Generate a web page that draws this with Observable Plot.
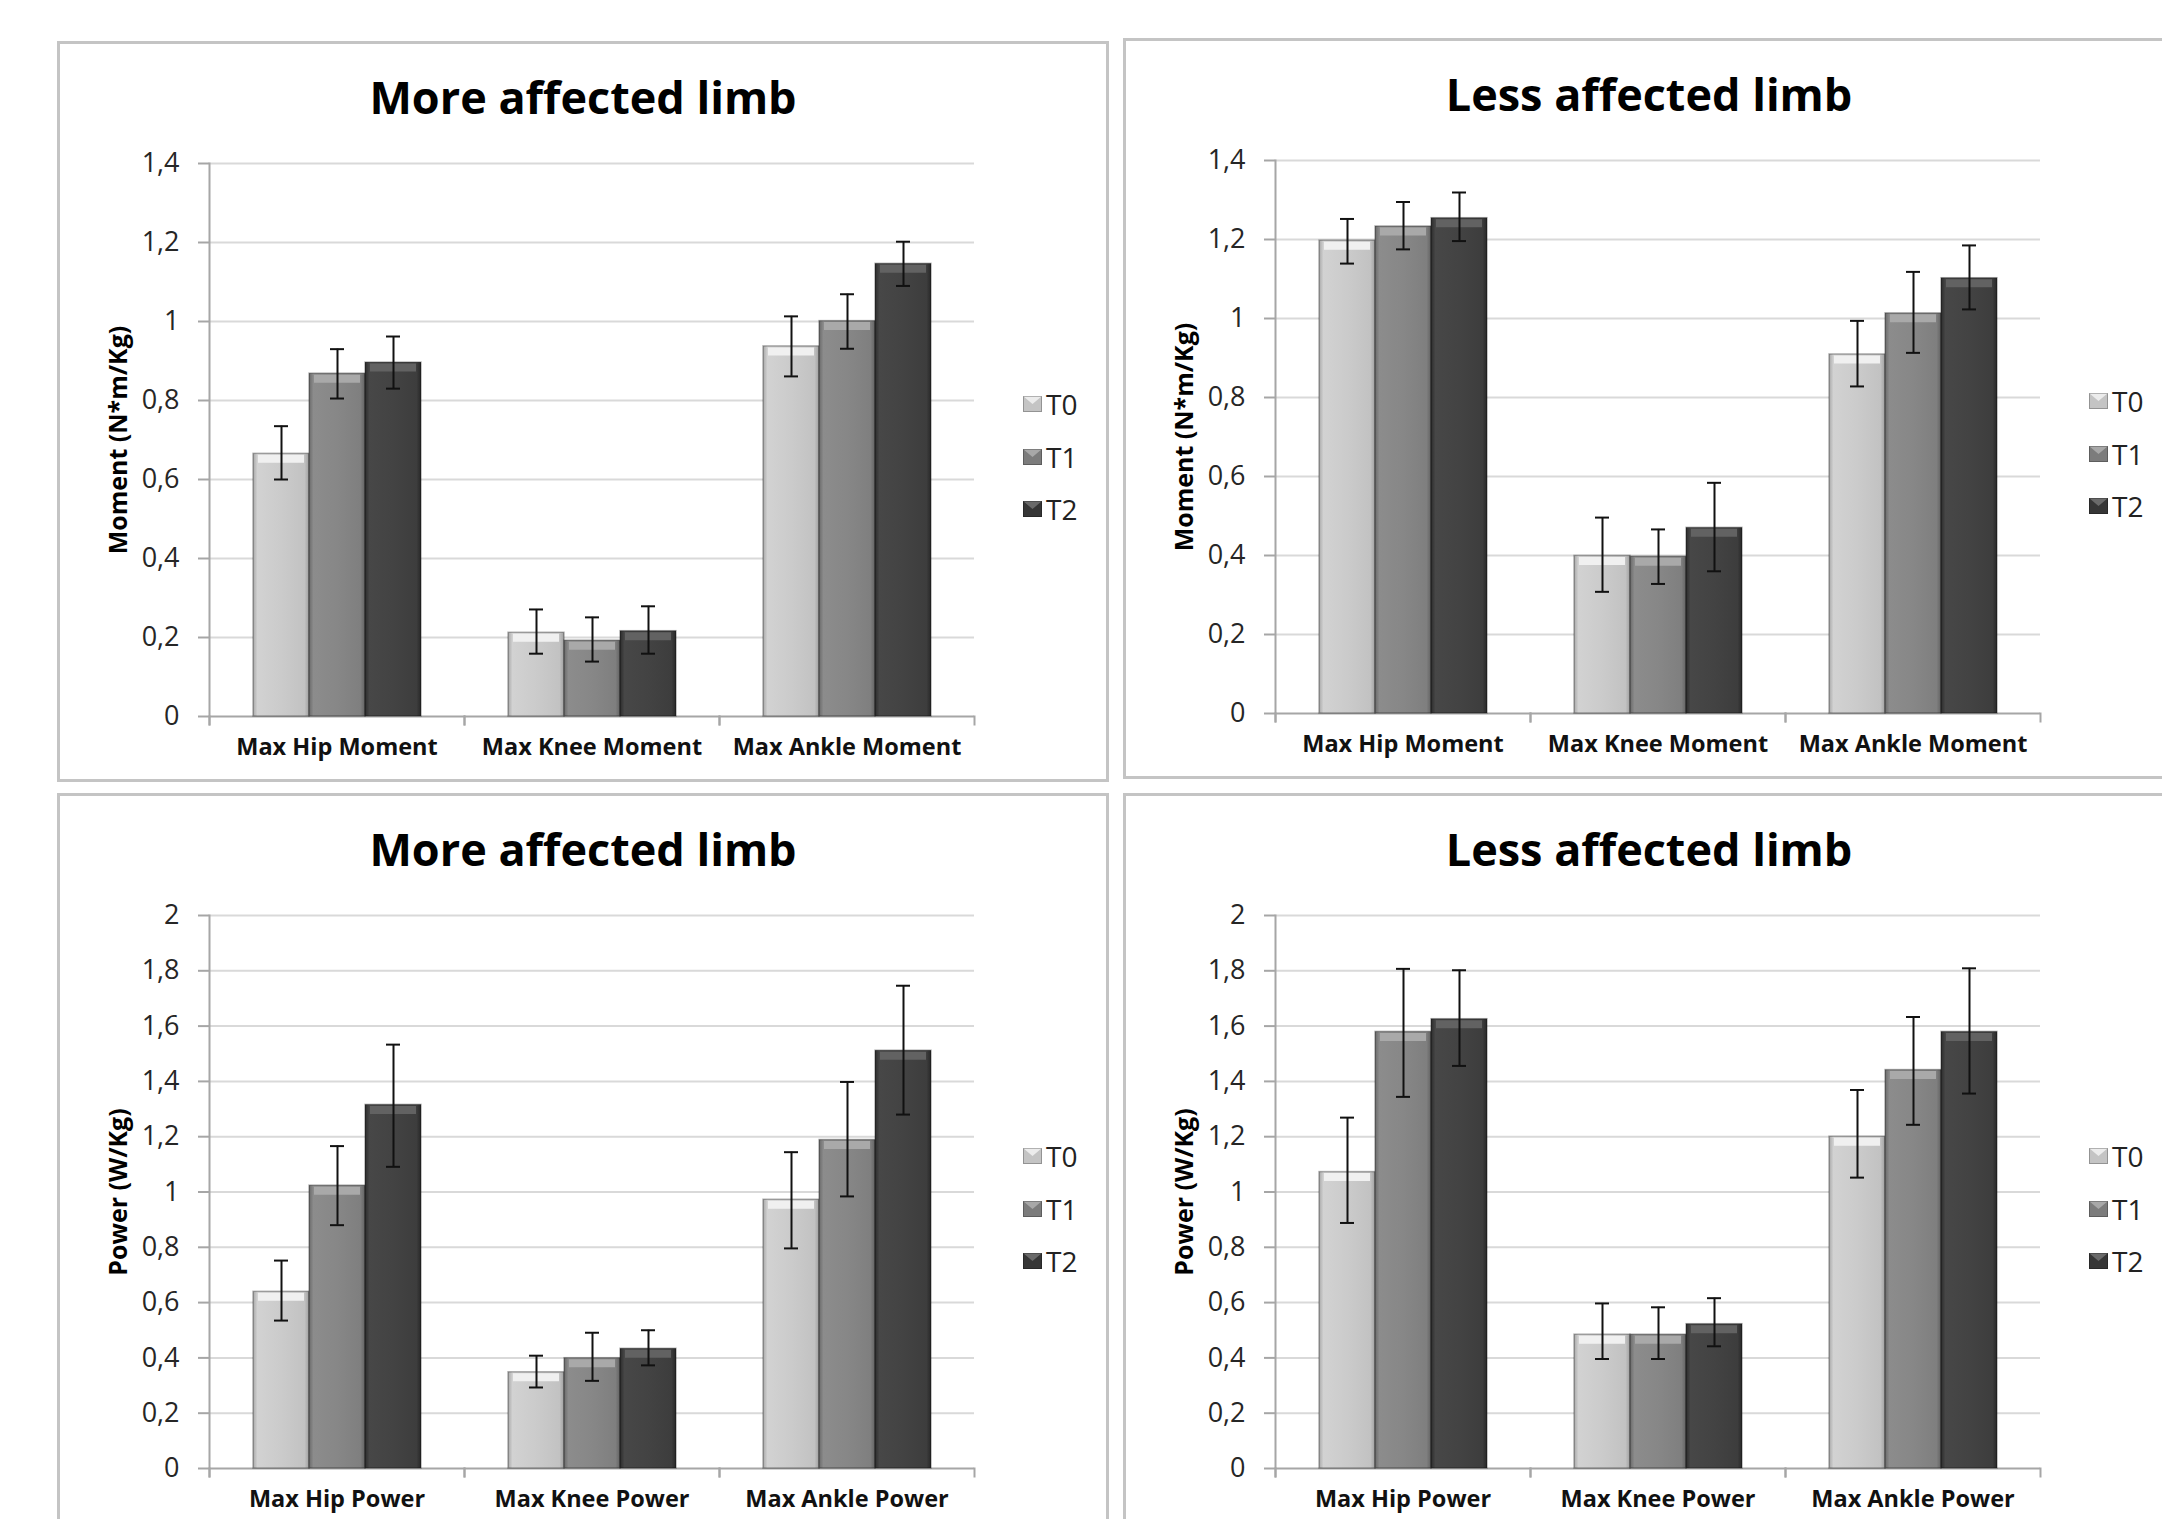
<!DOCTYPE html>
<html><head><meta charset="utf-8">
<script src="https://cdn.jsdelivr.net/npm/d3@7"></script>
<script src="https://cdn.jsdelivr.net/npm/@observablehq/plot@0.6"></script>
<style>
body{margin:0;background:#fff;}
#root{position:relative;width:2162px;height:1519px;overflow:hidden;background:#fff;font-family:"Open Sans",sans-serif;}
.panel{position:absolute;box-sizing:border-box;border:3px solid #c4c4c4;width:1052px;height:741px;}
.chart{position:absolute;}
.title{position:absolute;text-align:center;font-weight:700;font-size:45px;line-height:1;color:#000;white-space:nowrap;}
.ylabel{position:absolute;font-weight:700;font-size:25px;line-height:1;white-space:nowrap;transform:translate(-50%,-50%) rotate(-90deg);color:#000;}
.lrow{position:absolute;display:flex;align-items:center;white-space:nowrap;font-size:28px;line-height:1;color:#222;height:32px;}
.lrow svg{margin-right:4px;}
</style>
</head><body><div id="root">
<svg width="0" height="0" style="position:absolute"><defs>
<linearGradient id="gT0" x1="0" x2="1" y1="0" y2="0"><stop offset="0" stop-color="#a8a8a8"/><stop offset="0.08" stop-color="#d2d2d2"/><stop offset="0.5" stop-color="#cbcbcb"/><stop offset="0.92" stop-color="#c2c2c2"/><stop offset="1" stop-color="#a0a0a0"/></linearGradient>
<linearGradient id="gT1" x1="0" x2="1" y1="0" y2="0"><stop offset="0" stop-color="#6a6a6a"/><stop offset="0.08" stop-color="#8c8c8c"/><stop offset="0.5" stop-color="#878787"/><stop offset="0.92" stop-color="#7f7f7f"/><stop offset="1" stop-color="#636363"/></linearGradient>
<linearGradient id="gT2" x1="0" x2="1" y1="0" y2="0"><stop offset="0" stop-color="#2c2c2c"/><stop offset="0.08" stop-color="#474747"/><stop offset="0.5" stop-color="#434343"/><stop offset="0.92" stop-color="#3d3d3d"/><stop offset="1" stop-color="#282828"/></linearGradient>
</defs></svg>
</div>
<script>
// ---------- data ----------
const series = ["T0", "T1", "T2"];
const momentCategories = ["Max Hip Moment", "Max Knee Moment", "Max Ankle Moment"];
const powerCategories = ["Max Hip Power", "Max Knee Power", "Max Ankle Power"];
const momentTicks = [0, 0.2, 0.4, 0.6, 0.8, 1, 1.2, 1.4];
const powerTicks = [0, 0.2, 0.4, 0.6, 0.8, 1, 1.2, 1.4, 1.6, 1.8, 2];

// rows: hip, knee, ankle; columns: T0, T1, T2
const moreMomentMean = [[0.665, 0.868, 0.896], [0.212, 0.192, 0.216], [0.937, 1.001, 1.146]];
const moreMomentLow  = [[0.600, 0.805, 0.830], [0.159, 0.139, 0.159], [0.861, 0.931, 1.090]];
const moreMomentHigh = [[0.735, 0.930, 0.962], [0.271, 0.251, 0.279], [1.013, 1.069, 1.202]];

const lessMomentMean = [[1.197, 1.233, 1.254], [0.399, 0.397, 0.470], [0.909, 1.013, 1.102]];
const lessMomentLow  = [[1.139, 1.175, 1.196], [0.308, 0.328, 0.360], [0.828, 0.913, 1.023]];
const lessMomentHigh = [[1.252, 1.295, 1.319], [0.496, 0.466, 0.584], [0.994, 1.118, 1.185]];

const morePowerMean = [[0.639, 1.023, 1.315], [0.348, 0.399, 0.433], [0.972, 1.188, 1.511]];
const morePowerLow  = [[0.535, 0.880, 1.091], [0.293, 0.317, 0.373], [0.796, 0.984, 1.280]];
const morePowerHigh = [[0.752, 1.166, 1.533], [0.408, 0.491, 0.500], [1.144, 1.398, 1.746]];

const lessPowerMean = [[1.072, 1.579, 1.625], [0.484, 0.484, 0.522], [1.200, 1.441, 1.579]];
const lessPowerLow  = [[0.888, 1.344, 1.456], [0.396, 0.396, 0.442], [1.052, 1.243, 1.356]];
const lessPowerHigh = [[1.269, 1.807, 1.802], [0.597, 0.583, 0.616], [1.369, 1.633, 1.809]];

// ---------- layout / style ----------
const panels = [
  {left: 57, top: 41, title: "More affected limb", ylabel: "Moment (N*m/Kg)", cats: momentCategories, mean: moreMomentMean, low: moreMomentLow, high: moreMomentHigh, ticks: momentTicks},
  {left: 1123, top: 38, title: "Less affected limb", ylabel: "Moment (N*m/Kg)", cats: momentCategories, mean: lessMomentMean, low: lessMomentLow, high: lessMomentHigh, ticks: momentTicks},
  {left: 57, top: 793, title: "More affected limb", ylabel: "Power (W/Kg)", cats: powerCategories, mean: morePowerMean, low: morePowerLow, high: morePowerHigh, ticks: powerTicks},
  {left: 1123, top: 793, title: "Less affected limb", ylabel: "Power (W/Kg)", cats: powerCategories, mean: lessPowerMean, low: lessPowerLow, high: lessPowerHigh, ticks: powerTicks}
];
const W = 1052, H = 741, ML = 151, MR = 134, MT = 122, MB = 66, FH = H - MT - MB;
const barFill = ["url(#gT0)", "url(#gT1)", "url(#gT2)"];
const bevel = ["#f0f0f0", "#a9a9a9", "#626262"];
const swatchBase = ["#c4c4c4", "#7c7c7c", "#363636"];
const swatchTop = ["#ececec", "#a8a8a8", "#6a6a6a"];
const axisStroke = "#a6a6a6";
const fmt = d => String(d).replace(".", ",");
const root = document.getElementById("root");

function build(p) {
  const rows = [];
  p.cats.forEach((c, i) => series.forEach((s, j) => rows.push({cat: c, series: s, mean: p.mean[i][j], low: p.low[i][j], high: p.high[i][j]})));

  const border = document.createElement("div");
  border.className = "panel";
  border.style.left = p.left + "px";
  border.style.top = p.top + "px";
  root.appendChild(border);

  const chart = Plot.plot({
    width: W, height: H,
    marginLeft: ML, marginRight: MR, marginTop: MT, marginBottom: MB,
    style: {fontFamily: '"Open Sans", sans-serif', background: "transparent", overflow: "visible"},
    fx: {domain: p.cats, padding: 0, label: null},
    x: {domain: series, paddingInner: 0, paddingOuter: 0.76, axis: null},
    y: {domain: [0, p.ticks[p.ticks.length - 1]], axis: null},
    color: {domain: series, range: barFill},
    marks: [
      Plot.gridY(p.ticks.slice(1), {stroke: "#d9d9d9", strokeOpacity: 1, strokeWidth: 2}),
      Plot.axisY(p.ticks, {tickSize: 11, tickPadding: 19, tickFormat: fmt, fontSize: 27, stroke: axisStroke, strokeWidth: 2, fill: "#262626", label: null}),
      Plot.ruleY([0], {stroke: axisStroke, strokeWidth: 2}),
      Plot.frame({anchor: "left", fx: p.cats[0], stroke: axisStroke, strokeWidth: 2, insetBottom: -8}),
      Plot.frame({anchor: "left", stroke: axisStroke, strokeWidth: 2, insetTop: FH, insetBottom: -8}),
      Plot.frame({anchor: "right", stroke: axisStroke, strokeWidth: 2, insetTop: FH, insetBottom: -8}),
      Plot.barY(rows, {fx: "cat", x: "series", y: "mean", fill: "series", stroke: "rgba(0,0,0,0.3)", strokeWidth: 1.5}),
      ...series.map((s, j) => Plot.tickY(rows.filter(r => r.series === s), {fx: "cat", x: "series", y: "mean", stroke: bevel[j], strokeWidth: 8, dy: 5, insetLeft: 5, insetRight: 5})),
      Plot.ruleX(rows, {fx: "cat", x: "series", y1: "low", y2: "high", stroke: "#111", strokeWidth: 2}),
      Plot.tickY(rows, {fx: "cat", x: "series", y: "low", stroke: "#111", strokeWidth: 2, insetLeft: 21, insetRight: 21}),
      Plot.tickY(rows, {fx: "cat", x: "series", y: "high", stroke: "#111", strokeWidth: 2, insetLeft: 21, insetRight: 21}),
      Plot.axisFx({anchor: "bottom", tickSize: 0, tickPadding: 22, fontSize: 23.5, fontWeight: "bold", fill: "#111", label: null})
    ]
  });
  chart.classList.add("chart");
  chart.style.left = p.left + "px";
  chart.style.top = p.top + "px";
  root.appendChild(chart);

  const t = document.createElement("div");
  t.className = "title";
  t.textContent = p.title;
  t.style.left = p.left + "px";
  t.style.width = W + "px";
  t.style.top = (p.top + 33) + "px";
  root.appendChild(t);

  const yl = document.createElement("div");
  yl.className = "ylabel";
  yl.textContent = p.ylabel;
  yl.style.left = (p.left + 60) + "px";
  yl.style.top = (p.top + MT + FH / 2) + "px";
  root.appendChild(yl);

  series.forEach((s, j) => {
    const r = document.createElement("div");
    r.className = "lrow";
    r.style.left = (p.left + 966) + "px";
    r.style.top = (p.top + 363 + j * 52.5 - 16) + "px";
    r.innerHTML = `<svg width="19" height="16"><rect x="0" y="0" width="19" height="16" fill="${swatchBase[j]}"/><path d="M0,0 L19,0 L9.5,8 Z" fill="${swatchTop[j]}"/><rect x="0.5" y="0.5" width="18" height="15" fill="none" stroke="rgba(0,0,0,0.25)"/></svg><span>${s}</span>`;
    root.appendChild(r);
  });
}
panels.forEach(build);
</script></body></html>
